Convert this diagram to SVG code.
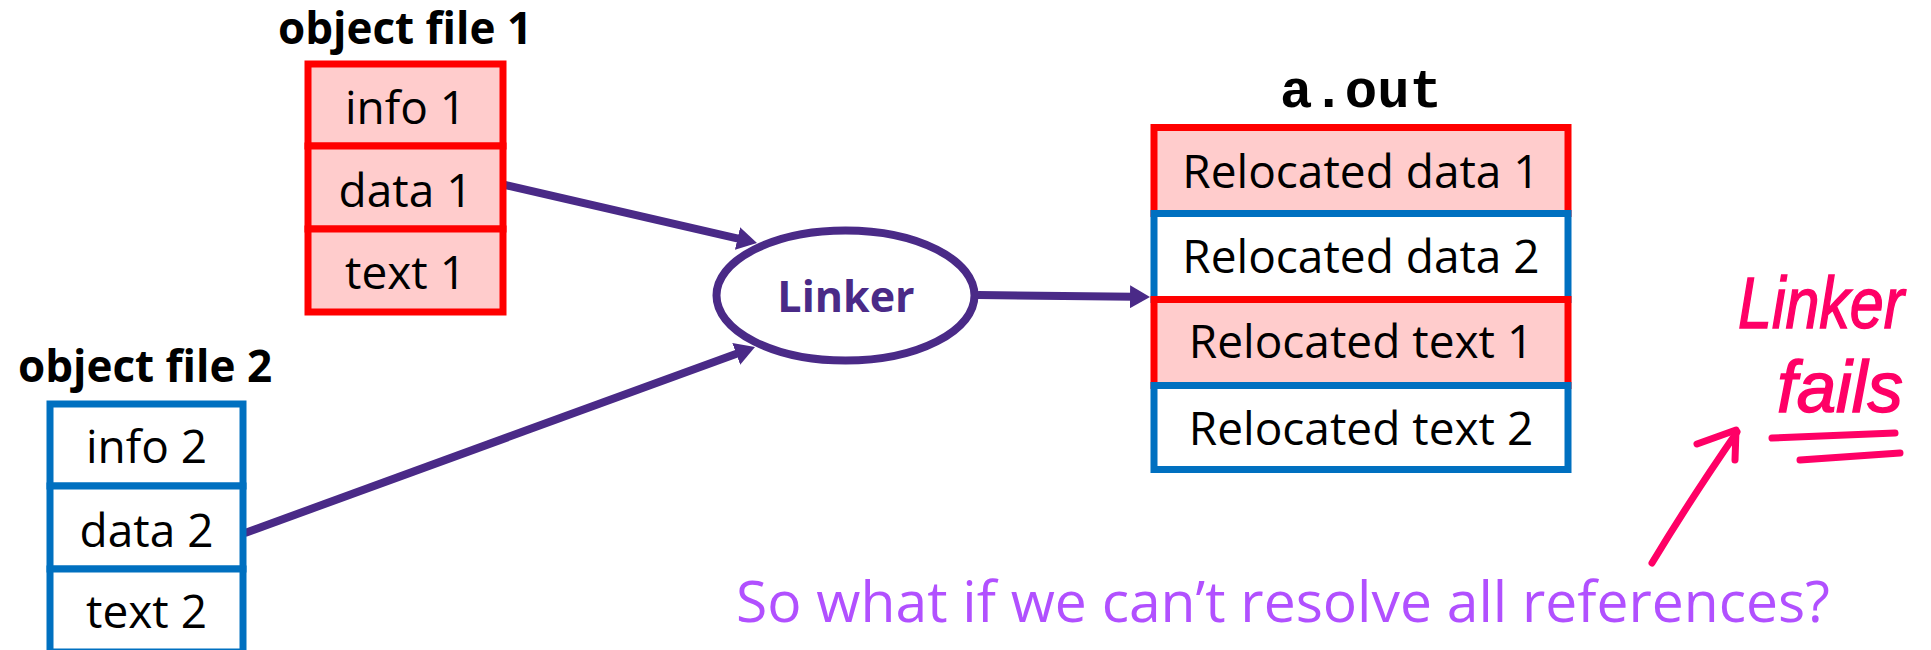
<svg xmlns="http://www.w3.org/2000/svg" width="1931" height="650" viewBox="0 0 1931 650">
  <style>
    .title { font-family: "Open Sans", "Liberation Sans", sans-serif; font-weight: bold; font-size: 44px; fill: #000; text-anchor: middle; }
    .cell-text { font-family: "Open Sans", "Liberation Sans", sans-serif; font-size: 46px; fill: #000; text-anchor: middle; }
    .red-cell { fill: #FFCCCC; stroke: #FF0000; stroke-width: 7; }
    .blue-cell { fill: #FFFFFF; stroke: #0070C0; stroke-width: 7; }
    .mono { font-family: "Liberation Mono", "Courier New", monospace; font-weight: bold; font-size: 54px; fill: #000; text-anchor: middle; }
    .linker-shape { fill: #FFFFFF; stroke: #4A2A87; stroke-width: 8; }
    .linker-label { font-family: "Open Sans", "Liberation Sans", sans-serif; font-weight: bold; font-size: 43px; fill: #4A2A87; text-anchor: middle; }
    .edge { stroke: #4A2A87; stroke-width: 8; fill: none; marker-end: url(#arrow); }
    .question { font-family: "Open Sans", "Liberation Sans", sans-serif; font-size: 57px; fill: #B150FF; }
    .ink { stroke: #FF0066; stroke-width: 7; stroke-linecap: round; stroke-linejoin: round; fill: none; }
    .ink-text { font-family: "Liberation Sans", sans-serif; font-style: italic; fill: #FF0066; stroke: #FF0066; stroke-width: 1.5; }
  </style>
  <defs>
    <marker id="arrow" markerUnits="userSpaceOnUse" markerWidth="20" markerHeight="23" refX="4" refY="11.5" orient="auto">
      <path d="M0,0 L20,11.5 L0,23 Z" fill="#4A2A87"/>
    </marker>
  </defs>

  <rect width="1931" height="650" fill="#FFFFFF"/>

  <!-- connectors -->
  <g id="connectors">
    <line class="edge" x1="505" y1="185" x2="741.4" y2="239.4"/>
    <line class="edge" x1="245" y1="533" x2="740" y2="352.5"/>
    <line class="edge" x1="978" y1="295" x2="1134" y2="296.8"/>
  </g>

  <!-- first object file -->
  <g id="object-file-1">
    <text class="title" x="405" y="44">object file 1</text>
    <rect class="red-cell" x="308" y="64" width="195" height="82"/>
    <rect class="red-cell" x="308" y="146" width="195" height="83"/>
    <rect class="red-cell" x="308" y="229" width="195" height="83"/>
    <text class="cell-text" x="405.5" y="124">info 1</text>
    <text class="cell-text" x="405.5" y="207">data 1</text>
    <text class="cell-text" x="405.5" y="289">text 1</text>
  </g>

  <!-- second object file -->
  <g id="object-file-2">
    <text class="title" x="145" y="382">object file 2</text>
    <rect class="blue-cell" x="50" y="404" width="193" height="82"/>
    <rect class="blue-cell" x="50" y="486" width="193" height="83"/>
    <rect class="blue-cell" x="50" y="569" width="193" height="83"/>
    <text class="cell-text" x="146.5" y="463">info 2</text>
    <text class="cell-text" x="146.5" y="547">data 2</text>
    <text class="cell-text" x="146.5" y="628">text 2</text>
  </g>

  <!-- linker -->
  <g id="linker">
    <ellipse class="linker-shape" cx="845.5" cy="295.5" rx="129" ry="65"/>
    <text class="linker-label" x="846" y="312">Linker</text>
  </g>

  <!-- linked output -->
  <g id="a-out">
    <text class="mono" x="1361" y="107">a.out</text>
    <rect class="red-cell" x="1154" y="127.5" width="414" height="86"/>
    <rect class="blue-cell" x="1154" y="213.5" width="414" height="86"/>
    <rect class="red-cell" x="1154" y="299.5" width="414" height="86"/>
    <rect class="blue-cell" x="1154" y="385.5" width="414" height="84"/>
    <text class="cell-text" x="1361" y="188">Relocated data 1</text>
    <text class="cell-text" x="1361" y="273">Relocated data 2</text>
    <text class="cell-text" x="1361" y="358">Relocated text 1</text>
    <text class="cell-text" x="1361" y="445">Relocated text 2</text>
  </g>

  <!-- question -->
  <g id="question">
    <text class="question" x="736" y="622">So what if we can’t resolve all references?</text>
  </g>

  <!-- ink annotation -->
  <g id="annotation">
    <text class="ink-text" x="1738" y="328" font-size="72" textLength="166" lengthAdjust="spacingAndGlyphs">Linker</text>
    <text class="ink-text" x="1777" y="412" font-size="72" textLength="126" lengthAdjust="spacingAndGlyphs">fails</text>
    <path class="ink" d="M1772,438 L1895,433"/>
    <path class="ink" d="M1800,460 L1900,453"/>
    <path class="ink" d="M1652,563 Q1690,500 1737,432"/>
    <path class="ink" d="M1697,444 L1736,430 L1735,460"/>
  </g>
</svg>
